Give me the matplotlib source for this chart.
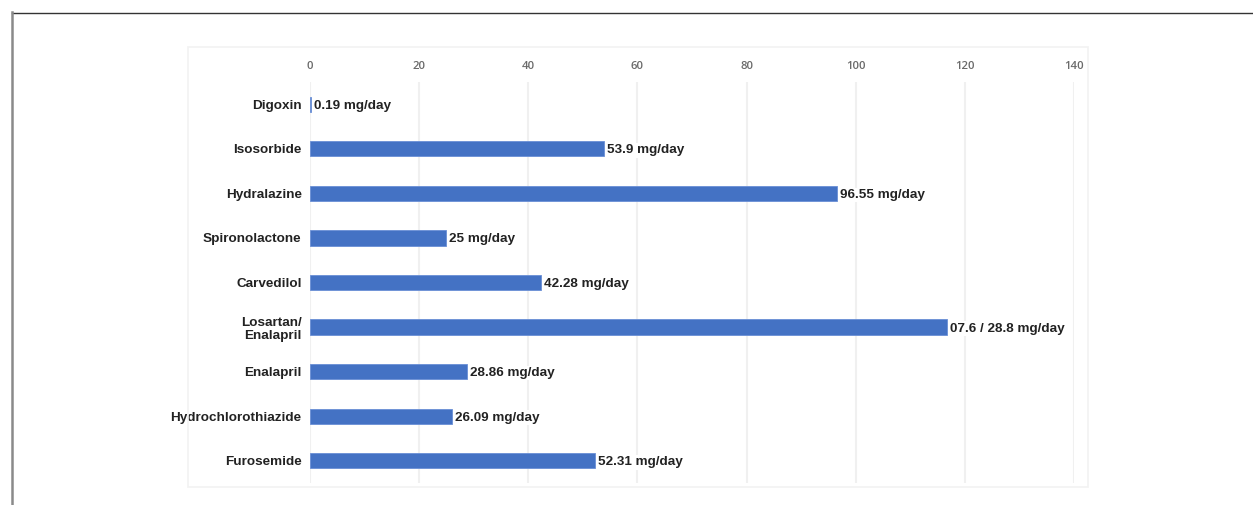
import matplotlib
matplotlib.use("Agg")
import matplotlib.pyplot as plt
from matplotlib.lines import Line2D
from matplotlib.patches import Rectangle

drugs = ["Digoxin", "Isosorbide", "Hydralazine", "Spironolactone", "Carvedilol",
         "Losartan/\nEnalapril", "Enalapril", "Hydrochlorothiazide", "Furosemide"]
doses = [0.19, 53.9, 96.55, 25, 42.28, 116.8, 28.86, 26.09, 52.31]
value_labels = ["0.19 mg/day", "53.9 mg/day", "96.55 mg/day", "25 mg/day", "42.28 mg/day",
                "07.6 / 28.8 mg/day", "28.86 mg/day", "26.09 mg/day", "52.31 mg/day"]
xticks = [0, 20, 40, 60, 80, 100, 120, 140]

W, H = 1253, 505
fig = plt.figure(figsize=(W / 100, H / 100), dpi=100)
fig.patch.set_facecolor("white")

# outer frame (top and left)
fig.add_artist(Line2D([12 / W, 1.0], [1 - 12.5 / H, 1 - 12.5 / H], color="#333333", lw=1.0))
fig.add_artist(Line2D([12 / W, 12 / W], [0, 1 - 12 / H], color="#8a8a8a", lw=1.8))
# chart area light border
fig.add_artist(Rectangle((188 / W, 1 - 487 / H), (1088 - 188) / W, (487 - 47) / H,
                         fill=False, edgecolor="#f2f2f2", lw=1.2))

ax = fig.add_axes([310 / W, 1 - 483 / H, (1074 - 310) / W, (483 - 82) / H])
ypos = list(range(len(drugs)))
ax.barh(ypos, doses, height=0.34, color="#4472C4", edgecolor="#6a8fd6", linewidth=0.6, zorder=3)
ax.set_xlim(0, 140)
ax.set_ylim(len(drugs) - 0.5, -0.5)

ax.set_xticks(xticks)
ax.xaxis.tick_top()
ax.tick_params(axis="x", length=0, pad=7.5, labelsize=8.2, labelcolor="#6a6a6a")
for lab in ax.get_xticklabels():
    lab.set_family("Open Sans")
    lab.set_fontweight("semibold")
ax.set_yticks(ypos)
ax.set_yticklabels(drugs, fontsize=9.7, fontweight="bold", color="#222222",
                   family="Liberation Sans", linespacing=1.12)
ax.tick_params(axis="y", length=0, pad=6)

ax.grid(axis="x", color="#f0f0f0", lw=1.5, zorder=0)
ax.grid(axis="y", visible=False)
for s in ax.spines.values():
    s.set_visible(False)

for y, v, t in zip(ypos, doses, value_labels):
    ax.annotate(t, (v, y), xytext=(2.0, 0), textcoords="offset points",
                ha="left", va="center_baseline", fontsize=9.7, fontweight="bold", color="#222222",
                family="Liberation Sans", zorder=4,
                bbox=dict(boxstyle="square,pad=0.1", facecolor="white", edgecolor="none"))

fig.savefig("out.png", dpi=100, facecolor="white")
